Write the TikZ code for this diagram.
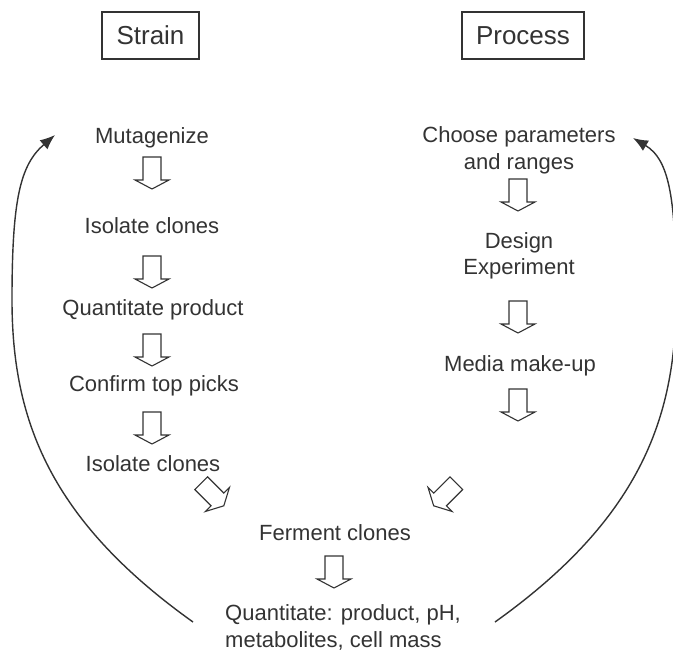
\documentclass[tikz,border=0pt]{standalone}
\usepackage{fontspec}
\setmainfont{Liberation Sans}
\usetikzlibrary{arrows.meta}
\definecolor{ink}{HTML}{333333}
\begin{document}
\begin{tikzpicture}[x=1pt,y=-1pt,
  lbl/.style={font=\fontsize{22}{26.5}\selectfont, text=ink, inner sep=0pt, anchor=base},
  lbl2/.style={font=\fontsize{22}{26.5}\selectfont, text=ink, inner sep=0pt, align=center},
  hdr/.style={draw=ink, line width=1.2pt, font=\fontsize{26}{30}\selectfont, text=ink, inner sep=0pt, text height=18.7pt, text depth=0pt, minimum height=47pt},
  loopline/.style={draw=ink, line width=1.4pt, -{Latex[length=15pt,width=12pt]}},
  blk/.style={draw=ink, line width=1.1pt, line join=miter},
  blockarrow/.pic={\draw[blk] (-9,-16) -- (9,-16) -- (9,7) -- (17,7) -- (0,16) -- (-17,7) -- (-9,7) -- cycle;}
]
\useasboundingbox (0,0) rectangle (673,651);
\clip (0,0) rectangle (673,651);

% headers
\node[hdr, minimum width=97pt] (strain) at (150.5,35.5) {Strain};
\node[hdr, minimum width=122pt] (process) at (523,35.5) {Process};

% strain column
\node[lbl] (mut) at (152,143) {Mutagenize};
\pic at (152,173) {blockarrow};
\node[lbl] (iso1) at (152,233) {Isolate clones};
\pic at (152,272) {blockarrow};
\node[lbl] (qprod) at (153,315) {Quantitate product};
\pic at (152,350) {blockarrow};
\node[lbl] (conf) at (154,391) {Confirm top picks};
\pic at (152,428) {blockarrow};
\node[lbl] (iso2) at (153,471) {Isolate clones};
\pic[rotate=45] at (212.5,494.5) {blockarrow};

% process column
\node[lbl2] (choose) at (519,150.5) {Choose parameters\\and ranges};
\pic at (518,195) {blockarrow};
\node[lbl2] (design) at (519,256) {Design\\Experiment};
\pic at (518,317) {blockarrow};
\node[lbl] (media) at (520,371) {Media make-up};
\pic at (518,405) {blockarrow};
\pic[rotate=-45] at (445,494.5) {blockarrow};

% bottom
\node[lbl] (ferm) at (335,540) {Ferment clones};
\pic at (334,572) {blockarrow};
\node[lbl2, align=left, anchor=west] (quant) at (225,627.5) {Quantitate: product, pH,\\metabolites, cell mass};

% loops
\coordinate (ls) at (193,622);
\coordinate (lt) at (55,135);
\coordinate (rs) at (495,622);
\coordinate (rt) at (633,138);
\draw[loopline] (ls) .. controls (50,520) and (12,420) .. (12,300)
  .. controls (12,200) and (20,165) .. (lt);
\draw[loopline] (rs) .. controls (638,520) and (676,420) .. (676,300)
  .. controls (676,200) and (670,160) .. (rt);
\end{tikzpicture}
\end{document}
